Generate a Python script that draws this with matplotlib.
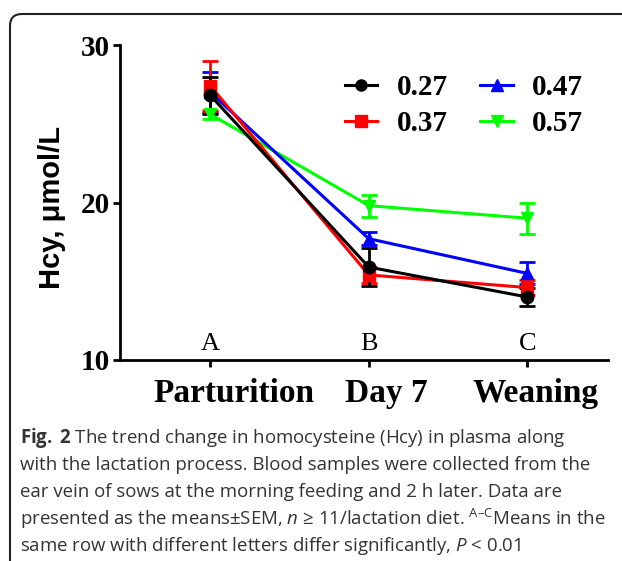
import numpy as np
import matplotlib
matplotlib.use("Agg")
import matplotlib.pyplot as plt
import matplotlib.patches as patches
from matplotlib.lines import Line2D

# data
stages = ["Parturition", "Day 7", "Weaning"]
letters = ["A", "B", "C"]
series = ["0.27", "0.37", "0.47", "0.57"]
hcy_027 = [26.8, 15.9, 14.0]
sem_027 = [1.2, 1.2, 0.6]
hcy_037 = [27.4, 15.4, 14.6]
sem_037 = [1.6, 0.5, 0.5]
hcy_047 = [27.0, 17.7, 15.5]
sem_047 = [1.3, 0.4, 0.7]
hcy_057 = [25.6, 19.8, 19.0]
sem_057 = [0.3, 0.7, 1.0]

plt.rcParams['mathtext.fontset'] = 'custom'
plt.rcParams['mathtext.rm'] = 'Open Sans'
plt.rcParams['mathtext.it'] = 'Open Sans:italic'
plt.rcParams['mathtext.bf'] = 'Open Sans:bold'

fig = plt.figure(figsize=(6.22, 5.61), dpi=100)
ax = fig.add_axes([120/622, 1-360/561, 488/622, 315/561])

x = np.arange(len(stages))
styles = {
    "0.57": (hcy_057, sem_057, "#00ff00", "v"),
    "0.47": (hcy_047, sem_047, "#0000ff", "^"),
    "0.37": (hcy_037, sem_037, "#ff0000", "s"),
    "0.27": (hcy_027, sem_027, "black", "o"),
}
for name in ["0.57", "0.47", "0.37", "0.27"]:
    y, e, c, m = styles[name]
    ax.errorbar(x, y, yerr=e, color=c, marker=m, markersize=9, lw=2.2,
                elinewidth=2, capsize=6, capthick=2)

ax.set_xlim(-0.57, 2.51)
ax.set_ylim(10, 30)
ax.set_yticks([10, 20, 30])
ax.set_xticks(x)
ax.set_xticklabels([])
for sp in ["top", "right"]:
    ax.spines[sp].set_visible(False)
for sp in ["left", "bottom"]:
    ax.spines[sp].set_linewidth(2)
ax.tick_params(axis="both", width=2, length=5, labelsize=21, pad=2)
for lab in ax.get_yticklabels():
    lab.set_fontfamily("Liberation Serif")
    lab.set_fontweight("bold")

# the stage labels sit a little right of their ticks in the original
label_shift = [0.146, 0.114, 0.05]
for xi, st, dx in zip(x, stages, label_shift):
    ax.annotate(st, (xi + dx, 0), xycoords=("data", "axes fraction"),
                xytext=(0, -30), textcoords="offset points", ha="center",
                va="baseline", fontsize=24, fontweight="bold",
                fontfamily="Liberation Serif", annotation_clip=False)

ax.set_ylabel("Hcy, μmol/L", fontsize=21, fontweight="bold",
              fontfamily="Liberation Sans")
ax.yaxis.set_label_coords(-0.11, 0.485)

for xi, lt in zip(x, letters):
    ax.text(xi, 10.3, lt, ha="center", va="bottom", fontsize=19,
            fontfamily="Liberation Serif")

handles = [Line2D([], [], color=styles[n][2], marker=styles[n][3], lw=2.2,
                  markersize=8) for n in series]
ax.legend(handles, series, ncol=2, loc="upper left", bbox_to_anchor=(0.408, 0.99),
          frameon=False, prop={"family": "Liberation Serif", "weight": "bold", "size": 21},
          handlelength=1.1, handletextpad=0.65, columnspacing=1.13, labelspacing=0.3)

# frame around the figure
frame = patches.FancyBboxPatch((10, -40), 660, 547 + 40,
                               boxstyle="round,pad=0,rounding_size=12",
                               transform=None, fill=False, ec="#222222", lw=1.5)
fig.patches.append(frame)

caption = [
    r"$\mathbf{Fig.\;2}$ The trend change in homocysteine (Hcy) in plasma along",
    "with the lactation process. Blood samples were collected from the",
    "ear vein of sows at the morning feeding and 2 h later. Data are",
    r"presented as the means±SEM, $n$ ≥ 11/lactation diet. $^{\mathrm{A–C}}$Means in the",
    r"same row with different letters differ significantly, $P$ < 0.01",
]
for i, line in enumerate(caption):
    fig.text(20/622, 1 - (438 + 27*i)/561, line, fontsize=13.4, fontfamily="Open Sans",
             color="#333333", va="center", ha="left")

fig.savefig("out.png", dpi=100)
